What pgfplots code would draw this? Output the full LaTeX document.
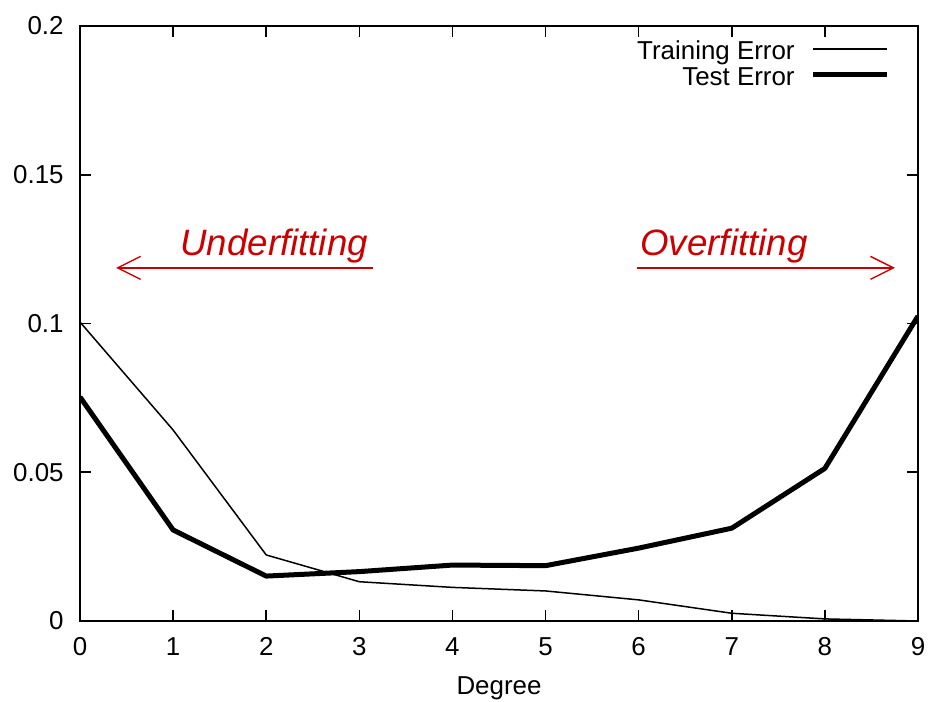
\documentclass[border=0pt]{standalone}
\usepackage{pgfplots}
\pgfplotsset{compat=1.18}
\usepackage{fontspec}
\setmainfont{Liberation Sans}
\usetikzlibrary{arrows.meta}
\definecolor{annot}{RGB}{204,0,0}

% Error against polynomial degree
\pgfplotstableread{
deg train test
0 0.1005 0.0753
1 0.0642 0.0306
2 0.0222 0.0151
3 0.0132 0.0166
4 0.0113 0.0188
5 0.0101 0.0186
6 0.0071 0.0245
7 0.0026 0.0312
8 0.0007 0.0513
9 0.0000 0.1025
}\errtable

\begin{document}
\begin{tikzpicture}
\path[use as bounding box] (-40bp,-40.5bp) rectangle (426.5bp,310.5bp);
\begin{axis}[
  at={(0,0)}, anchor=south west,
  scale only axis, width=419bp, height=297.5bp,
  xmin=0, xmax=9, ymin=0, ymax=0.2,
  xtick={0,...,9},
  ytick={0,0.05,0.1,0.15,0.2},
  xticklabels={0,1,2,3,4,5,6,7,8,9},
  yticklabels={0,0.05,0.1,0.15,0.2},
  minor tick num=0,
  tick pos=both, tick align=inside,
  major tick length=5.5bp,
  axis line style={line width=1bp},
  every tick/.style={line width=0.8bp, black},
  tick label style={font=\fontsize{13}{15}\selectfont},
  xticklabel style={yshift=-4.7pt},
  yticklabel style={xshift=-4.7pt},
  xlabel={Degree},
  label style={font=\fontsize{13}{15}\selectfont},
  xlabel style={at={(axis description cs:0.5,0)}, anchor=base, yshift=-36.5bp},
  legend plot pos=right,
  legend cell align=right,
  legend style={
    at={(axis description cs:1,1)}, anchor=north east,
    xshift=-14bp, yshift=-7bp,
    draw=none, fill=none, inner sep=0pt,
    row sep=0pt, column sep=8bp,
    font=\fontsize{13}{15}\selectfont,
    nodes={inner sep=0pt, text height=9.5pt, text depth=3.5pt},
  },
  legend image code/.code={\draw[#1] (0bp,2.15bp) -- (37bp,2.15bp);},
]
\addplot[black, line width=0.75bp, line join=round] table[x=deg, y=train] {\errtable};
\addlegendentry{Training Error}
\addplot[black, line width=2.5bp, line join=round] table[x=deg, y=test] {\errtable};
\addlegendentry{Test Error}

\draw[annot, line width=0.7bp, -{Straight Barb[length=11.5bp, width=11.5bp]}]
  (axis cs:3.147,0.1187) -- (axis cs:0.387,0.1187);
\draw[annot, line width=0.7bp, -{Straight Barb[length=11.5bp, width=11.5bp]}]
  (axis cs:5.982,0.1187) -- (axis cs:8.753,0.1187);
\node[annot, anchor=base west, inner sep=0pt, font=\fontsize{18.4}{22}\itshape]
  at (axis cs:1.074,0.1230) {Underfitting};
\node[annot, anchor=base west, inner sep=0pt, font=\fontsize{18.4}{22}\itshape]
  at (axis cs:6.014,0.1230) {Overfitting};
\end{axis}
\end{tikzpicture}
\end{document}
